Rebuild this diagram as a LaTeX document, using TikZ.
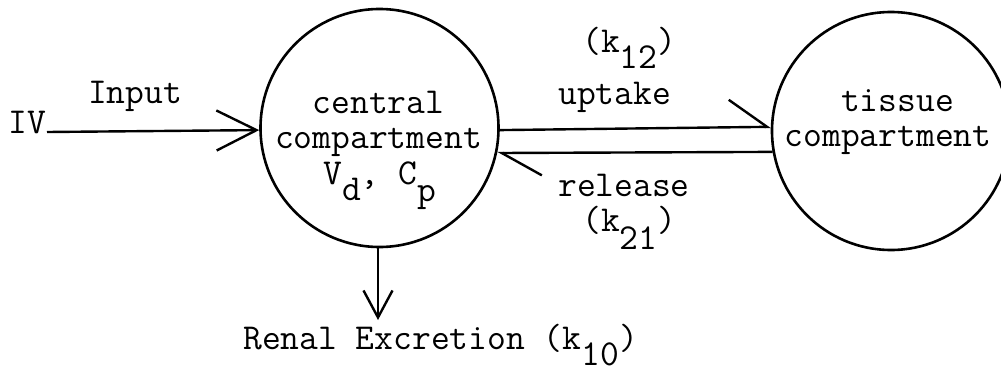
\documentclass[tikz,border=0pt]{standalone}
\usepackage{fontspec}
\usetikzlibrary{arrows.meta}
\newcommand\lowsub[2]{\raisebox{-#1pt}[\height][0pt]{#2}}
\tikzset{
  comp/.style={circle, draw, line width=2.6pt, minimum size=238pt, inner sep=0pt},
  lbl/.style={font=\ttfamily\fontsize{36.5}{40}\selectfont, inner sep=0pt, anchor=base},
  flow/.style={line width=2.4pt},
}
\begin{document}
\begin{tikzpicture}[x=1pt,y=-1pt]
\useasboundingbox[fill=white] (0,0) rectangle (1001,383);
% compartments
\node[comp] (c) at (379.5,128) {};
\node[comp] (t) at (891,131) {};
% central text
\node[lbl] (c1) at (378.5,113) {central};
\node[lbl] (c2) at (378.5,148) {compartment};
\node[lbl, anchor=base west] (c3) at (323,184) {V\lowsub{16}{d}, C\lowsub{17}{p}};
% tissue text
\node[lbl] (t1) at (897.5,111) {tissue};
\node[lbl] (t2) at (888,146) {compartment};
% input
\node[lbl, anchor=base east] (iv) at (46,133) {IV};
\node[lbl] (inp) at (135,103) {Input};
\draw[flow, -{Straight Barb[length=40pt, width=40pt]}] (iv.base east) ++(1,-1) -- (c.181.5);
% exchange
\draw[flow, -{Straight Barb[harpoon, length=38pt, width=55pt]}] (c.359.8) -- (t.178.8);
\draw[flow, -{Straight Barb[harpoon, length=40pt, width=45pt]}] (t.190.5) -- (c.348.2);
\node[lbl, anchor=base west] (k12) at (582,52) {(k\lowsub{16}{12})};
\node[lbl, anchor=base west] (up) at (558,104) {uptake};
\node[lbl, anchor=base west] (rel) at (558,196) {release};
\node[lbl, anchor=base west] (k21) at (582,231) {(k\lowsub{18}{21})};
% excretion
\coordinate (ex) at (378,320);
\draw[flow, -{Straight Barb[length=27pt, width=29pt]}] (c.south) ++(-1.5,0) -- (ex);
\node[lbl, anchor=base west] (ren) at (243,349) {Renal Excretion (k\lowsub{16}{10})};
\end{tikzpicture}
\end{document}
